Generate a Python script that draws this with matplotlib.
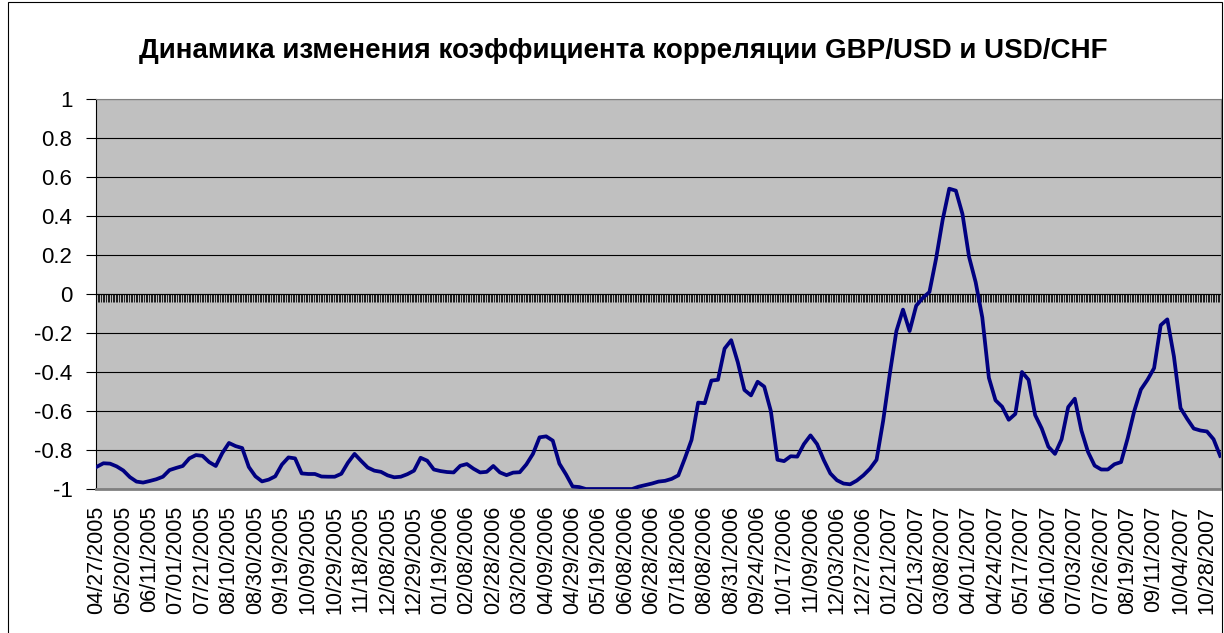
import numpy as np
import matplotlib.pyplot as plt
from matplotlib.patches import Rectangle

plt.rcParams['font.family'] = ['Liberation Sans', 'DejaVu Sans']
plt.rcParams['axes.unicode_minus'] = False

title = 'Динамика изменения коэффициента корреляции GBP/USD и USD/CHF'

# category axis: one slot per trading day, values read every 4th day
n_days = 681
step = 4
corr = [
    -0.886, -0.868, -0.870, -0.884, -0.905, -0.939, -0.962, -0.967, -0.959, -0.950,
    -0.937, -0.903, -0.892, -0.882, -0.843, -0.826, -0.830, -0.862, -0.882, -0.815,
    -0.764, -0.780, -0.790, -0.887, -0.935, -0.961, -0.952, -0.935, -0.875, -0.838,
    -0.843, -0.920, -0.923, -0.923, -0.936, -0.937, -0.937, -0.922, -0.865, -0.820,
    -0.856, -0.890, -0.906, -0.912, -0.930, -0.940, -0.937, -0.924, -0.906, -0.840,
    -0.855, -0.900, -0.908, -0.913, -0.915, -0.881, -0.872, -0.896, -0.915, -0.912,
    -0.882, -0.915, -0.929, -0.916, -0.914, -0.874, -0.820, -0.735, -0.730, -0.752,
    -0.870, -0.925, -0.987, -0.990, -1.000, -1.000, -1.000, -1.000, -1.000, -1.000,
    -1.000, -1.000, -0.988, -0.980, -0.972, -0.962, -0.958, -0.948, -0.930, -0.842,
    -0.748, -0.557, -0.560, -0.444, -0.440, -0.280, -0.237, -0.350, -0.492, -0.520,
    -0.450, -0.475, -0.600, -0.850, -0.857, -0.832, -0.834, -0.770, -0.725, -0.770,
    -0.851, -0.920, -0.955, -0.972, -0.976, -0.957, -0.930, -0.896, -0.850, -0.650,
    -0.410, -0.190, -0.080, -0.190, -0.060, -0.020, 0.010, 0.180, 0.380, 0.540,
    0.530, 0.410, 0.190, 0.060, -0.120, -0.430, -0.545, -0.578, -0.645, -0.615,
    -0.400, -0.440, -0.621, -0.690, -0.783, -0.820, -0.745, -0.580, -0.537, -0.700,
    -0.810, -0.880, -0.900, -0.900, -0.873, -0.862, -0.740, -0.600, -0.490, -0.440,
    -0.380, -0.160, -0.130, -0.320, -0.585, -0.640, -0.690, -0.700, -0.705, -0.745,
    -0.830,
]

label_every = 16
date_labels = [
    '04/27/2005', '05/20/2005', '06/11/2005', '07/01/2005', '07/21/2005',
    '08/10/2005', '08/30/2005', '09/19/2005', '10/09/2005', '10/29/2005',
    '11/18/2005', '12/08/2005', '12/29/2005', '01/19/2006', '02/08/2006',
    '02/28/2006', '03/20/2006', '04/09/2006', '04/29/2006', '05/19/2006',
    '06/08/2006', '06/28/2006', '07/18/2006', '08/08/2006', '08/31/2006',
    '09/24/2006', '10/17/2006', '11/09/2006', '12/03/2006', '12/27/2006',
    '01/21/2007', '02/13/2007', '03/08/2007', '04/01/2007', '04/24/2007',
    '05/17/2007', '06/10/2007', '07/03/2007', '07/26/2007', '08/19/2007',
    '09/11/2007', '10/04/2007', '10/28/2007',
]

y_ticks = [1, 0.8, 0.6, 0.4, 0.2, 0, -0.2, -0.4, -0.6, -0.8, -1]
y_labels = ['1', '0.8', '0.6', '0.4', '0.2', '0', '-0.2', '-0.4', '-0.6', '-0.8', '-1']

fig = plt.figure(figsize=(12.24, 6.33), dpi=100)
ax = fig.add_axes([96 / 1224, 1 - 489 / 633, 1125 / 1224, 390 / 633])
ax.set_facecolor('#C0C0C0')

x = np.arange(0, n_days, step)[:len(corr)]
ax.plot(x, corr, color='#000080', lw=2.7, zorder=3)

ax.set_xlim(-0.5, n_days - 0.5)
ax.set_ylim(-1, 1)

ax.set_yticks(y_ticks)
ax.set_yticklabels(y_labels, fontsize=16)
ax.tick_params(axis='y', direction='out', length=7, width=0.8, pad=10, colors='black')
ax.yaxis.grid(True, color='black', lw=0.8)
ax.set_axisbelow(True)

ax.set_xticks(np.arange(0, n_days, label_every)[:len(date_labels)])
ax.set_xticklabels(date_labels, rotation=90, fontsize=15.5)
ax.tick_params(axis='x', length=0, pad=12)

for s in ['bottom', 'right', 'top']:
    ax.spines[s].set_color('#808080')
ax.spines['bottom'].set_linewidth(2)
ax.spines['left'].set_color('black')

# horizontal axis crosses at 0 with a tick for every category
ymin, ymax = ax.get_ylim()
sec = ax.secondary_xaxis((0 - ymin) / (ymax - ymin))
sec.set_xticks(np.arange(n_days + 1) - 0.5)
sec.set_xticklabels([])
sec.tick_params(axis='x', which='both', direction='in', length=6, width=0.6,
                labeltop=False, labelbottom=False, colors='black')
for s in sec.spines.values():
    s.set_color('black')

fig.text(623 / 1224, 1 - 51 / 633, title, ha='center', va='center',
         fontsize=20, fontweight='bold')

fig.add_artist(Rectangle((8 / 1224, -0.05), 1214 / 1224, 1.05 - 1.5 / 633,
                         transform=fig.transFigure, fill=False, ec='black', lw=0.8))

fig.savefig('out.png', dpi=100)
